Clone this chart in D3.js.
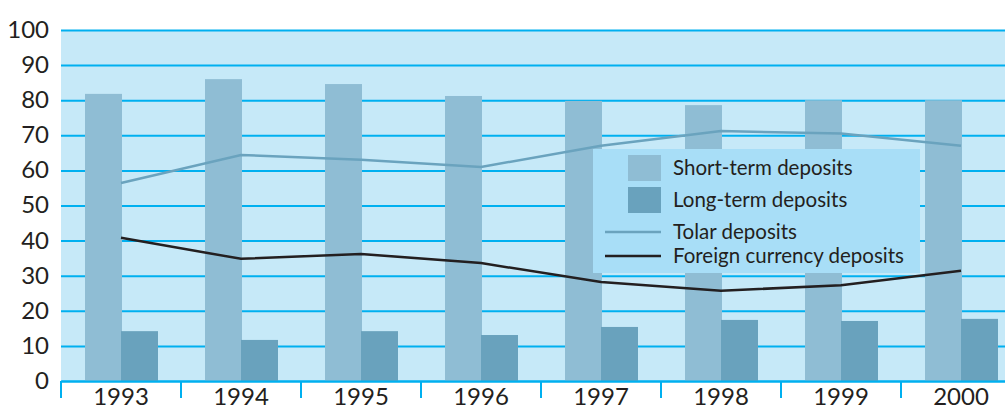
<!DOCTYPE html>
<html>
<head>
<meta charset="utf-8">
<script src="https://cdn.jsdelivr.net/npm/d3@7"></script>
<style>
    html, body { margin: 0; padding: 0; background: #fff; overflow: hidden; }
    svg { display: block; font-family: Lato, "Open Sans", sans-serif; }
</style>
</head>
<body>
<svg id="chart"></svg>
<script>
const years = ["1993", "1994", "1995", "1996", "1997", "1998", "1999", "2000"];
const shortTerm = [81.8, 86.0, 84.6, 81.2, 79.8, 78.6, 80.0, 80.0];
const longTerm = [14.2, 11.7, 14.2, 13.1, 15.4, 17.4, 17.1, 17.7];
const tolar = [56.4, 64.4, 63.0, 61.0, 67.0, 71.2, 70.5, 67.0];
const foreign = [40.8, 34.8, 36.2, 33.6, 28.2, 25.7, 27.3, 31.4];
const yTicks = [0, 10, 20, 30, 40, 50, 60, 70, 80, 90, 100];
const legendItems = [
    { label: "Short-term deposits", type: "rect", color: "#8fbdd4" },
    { label: "Long-term deposits", type: "rect", color: "#69a2bd" },
    { label: "Tolar deposits", type: "line", color: "#6aa3be" },
    { label: "Foreign currency deposits", type: "line", color: "#231f20" }
];

const width = 1005, height = 409;
const margin = { top: 30, left: 61, bottom: 28 };
const plotRight = margin.left + 120 * years.length; // runs off the right edge

const svg = d3.select("#chart")
    .attr("width", width)
    .attr("height", height)
    .attr("viewBox", [0, 0, width, height]);

const x = d3.scaleBand()
    .domain(years)
    .range([margin.left, plotRight]);

const bw = x.bandwidth();
const xInner = d3.scaleBand()
    .domain(["short", "long"])
    .range([bw * 0.2, bw * 0.8]);

const y = d3.scaleLinear()
    .domain([0, 100])
    .range([height - margin.bottom, margin.top]);

// plot background
svg.append("rect")
    .attr("x", margin.left)
    .attr("y", y(100))
    .attr("width", plotRight - margin.left)
    .attr("height", y(0) - y(100))
    .attr("fill", "#c6e9f8");

// horizontal grid
svg.append("g")
    .attr("transform", `translate(${ margin.left },0)`)
    .call(d3.axisLeft(y)
        .tickValues(yTicks)
        .tickSize(-(plotRight - margin.left))
        .tickFormat(""))
    .call(g => g.select(".domain").remove())
    .call(g => g.selectAll(".tick line")
        .attr("stroke", "#00b0f0")
        .attr("stroke-width", 2));

// y labels
svg.append("g")
    .selectAll("text")
    .data(yTicks)
    .join("text")
    .attr("x", 49)
    .attr("y", d => y(d))
    .attr("dy", "0.33em")
    .attr("text-anchor", "end")
    .attr("font-size", 24)
    .attr("fill", "#231f20")
    .text(d => d);

// bars
const bars = svg.append("g");
bars.selectAll(".short")
    .data(years)
    .join("rect")
    .attr("class", "short")
    .attr("x", d => x(d) + xInner("short"))
    .attr("y", (d, i) => y(shortTerm[i]))
    .attr("width", xInner.bandwidth() + 1)
    .attr("height", (d, i) => y(0) - y(shortTerm[i]))
    .attr("fill", "#8fbdd4");
bars.selectAll(".long")
    .data(years)
    .join("rect")
    .attr("class", "long")
    .attr("x", d => x(d) + xInner("long"))
    .attr("y", (d, i) => y(longTerm[i]))
    .attr("width", xInner.bandwidth() + 1)
    .attr("height", (d, i) => y(0) - y(longTerm[i]))
    .attr("fill", "#69a2bd");

// bottom axis
svg.append("g")
    .attr("transform", `translate(0,${ y(0) })`)
    .call(d3.axisBottom(x).tickSize(0).tickFormat(""))
    .call(g => g.select(".domain")
        .attr("stroke", "#00b0f0")
        .attr("stroke-width", 2));

svg.append("g")
    .selectAll("line")
    .data(years)
    .join("line")
    .attr("x1", d => x(d))
    .attr("x2", d => x(d))
    .attr("y1", y(0))
    .attr("y2", y(0) + 17)
    .attr("stroke", "#00b0f0")
    .attr("stroke-width", 2);

svg.append("g")
    .selectAll("text")
    .data(years)
    .join("text")
    .attr("x", d => x(d) + bw / 2)
    .attr("y", 405)
    .attr("text-anchor", "middle")
    .attr("font-size", 24)
    .attr("fill", "#231f20")
    .text(d => d);

// lines
const line = d3.line()
    .x((d, i) => x(years[i]) + bw / 2)
    .y(d => y(d));

svg.append("path")
    .datum(tolar)
    .attr("fill", "none")
    .attr("stroke", "#6aa3be")
    .attr("stroke-width", 2.5)
    .attr("d", line);

svg.append("path")
    .datum(foreign)
    .attr("fill", "none")
    .attr("stroke", "#231f20")
    .attr("stroke-width", 2.5)
    .attr("d", line);

// legend
const legend = svg.append("g").attr("transform", "translate(593,149)");
legend.append("rect")
    .attr("width", 327)
    .attr("height", 124)
    .attr("fill", "#a8def7");

const rowY = [19, 51, 83, 107];
legendItems.forEach((item, i) => {
    const row = legend.append("g").attr("transform", `translate(0,${ rowY[i] })`);
    if (item.type === "rect") {
        row.append("rect")
            .attr("x", 35)
            .attr("y", -13)
            .attr("width", 33)
            .attr("height", 26)
            .attr("fill", item.color);
    } else {
        row.append("line")
            .attr("x1", 12)
            .attr("x2", 68)
            .attr("stroke", item.color)
            .attr("stroke-width", 2.5);
    }
    row.append("text")
        .attr("x", 80)
        .attr("dy", "0.35em")
        .attr("font-size", 20.5)
        .attr("fill", "#231f20")
        .text(item.label);
});
</script>
</body>
</html>
